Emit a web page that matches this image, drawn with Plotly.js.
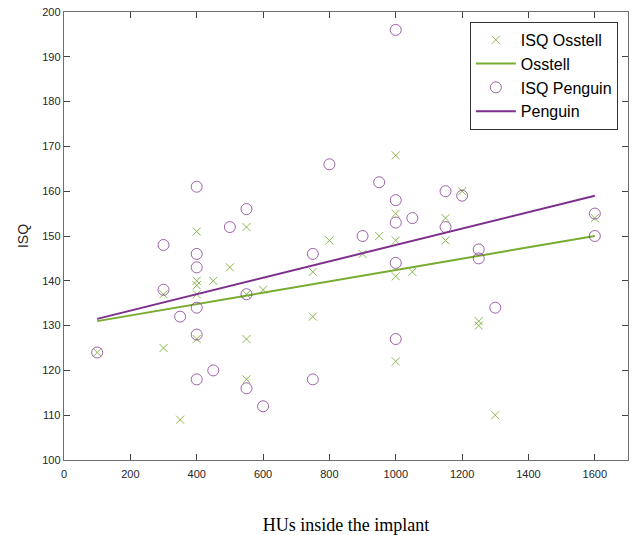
<!DOCTYPE html>
<html>
<head>
<meta charset="utf-8">
<script src="https://cdn.plot.ly/plotly-3.0.1.min.js"></script>
<style>html,body{margin:0;padding:0;background:#fff;}#chart{width:632px;height:535px;}</style>
</head>
<body>
<div id="chart"></div>
<script>
// HU values (x) and ISQ readings
const osstellHU  = [100,300,300,350,400,400,400,400,400,450,500,550,550,550,550,600,750,750,800,900,950,1000,1000,1000,1000,1000,1050,1150,1150,1200,1250,1250,1300,1600];
const osstellISQ = [124,137,125,109,151,140,139,137,127,140,143,152,137,127,118,138,142,132,149,146,150,168,155,149,141,122,142,154,149,160,131,130,110,154];
const penguinHU  = [100,300,300,350,400,400,400,400,400,400,450,500,550,550,550,600,750,750,800,900,950,1000,1000,1000,1000,1000,1050,1150,1150,1200,1250,1250,1300,1600,1600];
const penguinISQ = [124,148,138,132,161,146,143,134,128,118,120,152,156,137,116,112,146,118,166,150,162,196,158,153,144,127,154,160,152,159,147,145,134,155,150];
// Fitted lines (end points)
const fitHU      = [100,1600];
const osstellFit = [131,150];
const penguinFit = [131.5,159];

const green = '#77AC30', purple = '#7E2F8E';
const greenMk = 'rgba(119,172,48,0.85)', purpleMk = 'rgba(126,47,142,0.75)';
const traces = [
  {x: osstellHU, y: osstellISQ, type:'scatter', mode:'markers', name:'ISQ Osstell',
   marker:{symbol:'x-thin-open', size:8, color:greenMk, line:{color:greenMk, width:1}}},
  {x: fitHU, y: osstellFit, type:'scatter', mode:'lines', name:'Osstell',
   line:{color:green, width:2}},
  {x: penguinHU, y: penguinISQ, type:'scatter', mode:'markers', name:'ISQ Penguin',
   marker:{symbol:'circle-open', size:11, color:purpleMk, line:{color:purpleMk, width:1}}},
  {x: fitHU, y: penguinFit, type:'scatter', mode:'lines', name:'Penguin',
   line:{color:purple, width:2}}
];
const axisCommon = {showgrid:false, zeroline:false, showline:true, linecolor:'#6e6e6e', linewidth:1.3,
  mirror:'allticks', ticks:'inside', ticklen:6, tickcolor:'#444', tickwidth:1,
  tickfont:{family:'Liberation Sans, Arial', size:11, color:'#262626'}};
const layout = {
  width:632, height:535, margin:{l:64, r:4, t:12, b:75},
  paper_bgcolor:'#fff', plot_bgcolor:'#fff', showlegend:true,
  xaxis: Object.assign({}, axisCommon, {range:[0,1700], tickvals:[0,200,400,600,800,1000,1200,1400,1600],
    ticklabelstandoff:3,
    title:{text:'HUs inside the implant', font:{family:'Liberation Serif, Times New Roman', size:18, color:'#000'}, standoff:42}}),
  yaxis: Object.assign({}, axisCommon, {range:[100,200], dtick:10,
    title:{text:'ISQ', font:{family:'Liberation Sans, Arial', size:14, color:'#262626'}, standoff:10}}),
  legend:{x:0.982, xanchor:'right', y:0.978, yanchor:'top', bgcolor:'#fff', bordercolor:'#333', borderwidth:1,
    font:{family:'Liberation Sans, Arial', size:16, color:'#000'}, tracegroupgap:0, itemwidth:40}
};
Plotly.newPlot('chart', traces, layout, {displayModeBar:false, staticPlot:true});
</script>
</body>
</html>
